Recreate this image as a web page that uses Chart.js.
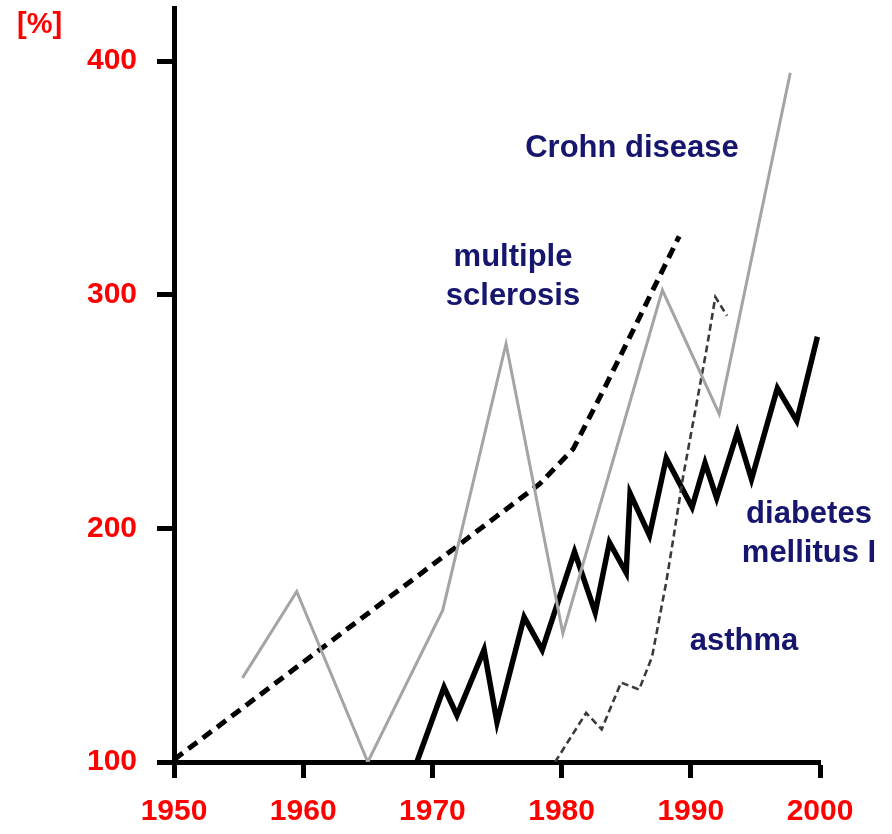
<!DOCTYPE html>
<html>
<head>
<meta charset="utf-8">
<script src="https://cdn.jsdelivr.net/npm/chart.js@4"></script>
<style>
  html, body { margin: 0; padding: 0; background: #ffffff; }
  #wrap { position: relative; width: 892px; height: 834px; }
  canvas { display: block; }
</style>
</head>
<body>
<div id="wrap"><canvas id="c" width="892" height="834"></canvas></div>
<script>
// ---- data ----
const xTicks = [1950, 1960, 1970, 1980, 1990, 2000];
const yTicks = [100, 200, 300, 400];
const yUnit = '[%]';

// Crohn disease (thin grey solid)
const crohnYears  = [1955.3, 1959.5, 1965.0, 1970.8, 1975.7, 1980.1, 1987.8, 1992.2, 1997.7];
const crohnValues = [136, 173, 100, 165, 279, 155, 302, 249, 395];

// multiple sclerosis (thick black dashed)
const msYears  = [1950.0, 1978.3, 1980.9, 1983.5, 1986.0, 1989.1];
const msValues = [101, 219, 234, 262, 290, 325];

// diabetes mellitus I (thick black solid)
const diabYears  = [1968.8, 1970.9, 1971.9, 1974.0, 1975.0, 1977.1, 1978.5, 1981.0, 1982.6, 1983.7, 1985.0, 1985.3, 1986.8, 1988.1, 1990.1, 1991.1, 1992.0, 1993.6, 1994.7, 1996.7, 1998.2, 1999.8];
const diabValues = [100, 132, 120, 148, 117, 162, 148, 190, 164, 194, 181, 215, 197, 230, 209, 228, 213, 241, 221, 260, 246, 282];

// asthma (thin dark dashed)
const asthmaYears  = [1979.5, 1981.9, 1983.1, 1984.6, 1986.0, 1987.0, 1988.1, 1988.6, 1989.4, 1990.5, 1991.2, 1991.9, 1992.8];
const asthmaValues = [100, 121, 114, 134, 131, 145, 177, 194, 222, 255, 276, 299, 291];

const seriesNames = ['Crohn disease', 'multiple sclerosis', 'diabetes mellitus I', 'asthma'];

// ---- helpers ----
const pts = (xs, ys) => xs.map((x, i) => ({ x: x, y: ys[i] }));

const RED = '#ff0000';
const NAVY = '#16166e';
const FONT = "'Liberation Sans', Arial, Helvetica, sans-serif";

// annotation labels (text positions in canvas pixels)
const annotations = [
  { lines: ['Crohn disease'], x: 632, y: 157 },
  { lines: ['multiple', 'sclerosis'], x: 513, y: 266 },
  { lines: ['diabetes', 'mellitus I'], x: 809, y: 523 },
  { lines: ['asthma'], x: 744, y: 650 }
];

const labelPlugin = {
  id: 'labels',
  afterDraw(chart) {
    const ctx = chart.ctx;
    ctx.save();
    ctx.textAlign = 'center';
    ctx.textBaseline = 'alphabetic';
    ctx.fillStyle = NAVY;
    ctx.font = 'bold 31px ' + FONT;
    annotations.forEach(a => {
      a.lines.forEach((t, i) => ctx.fillText(t, a.x, a.y + i * 39));
    });
    ctx.fillStyle = RED;
    ctx.textAlign = 'left';
    ctx.font = 'bold 29px ' + FONT;
    ctx.fillText(yUnit, 17, 33);
    ctx.restore();
  }
};

const zeroPad = s => { s.paddingTop = 0; s.paddingBottom = 0; s.paddingLeft = 0; s.paddingRight = 0; };

new Chart(document.getElementById('c'), {
  type: 'line',
  data: {
    datasets: [
      {
        label: seriesNames[0],
        data: pts(crohnYears, crohnValues),
        borderColor: '#a4a4a4',
        borderWidth: 3,
        pointRadius: 0,
        tension: 0,
        fill: false
      },
      {
        label: seriesNames[1],
        data: pts(msYears, msValues),
        borderColor: '#000000',
        borderWidth: 5,
        borderDash: [11, 7],
        pointRadius: 0,
        tension: 0,
        fill: false
      },
      {
        label: seriesNames[3],
        data: pts(asthmaYears, asthmaValues),
        borderColor: '#3a3a3a',
        borderWidth: 2.6,
        borderDash: [7, 4],
        pointRadius: 0,
        tension: 0,
        fill: false
      },
      {
        label: seriesNames[2],
        data: pts(diabYears, diabValues),
        borderColor: '#000000',
        borderWidth: 5.5,
        borderJoinStyle: 'miter',
        pointRadius: 0,
        tension: 0,
        fill: false
      }
    ]
  },
  options: {
    responsive: false,
    animation: false,
    devicePixelRatio: 1,
    layout: { padding: { top: 8, right: 72, left: 0, bottom: 0 } },
    plugins: { legend: { display: false }, tooltip: { enabled: false } },
    scales: {
      x: {
        type: 'linear',
        min: 1950,
        max: 2000,
        afterFit: s => { s.height = 72; zeroPad(s); },
        afterBuildTicks: s => { s.ticks = xTicks.map(v => ({ value: v })); },
        border: { display: true, color: '#000', width: 5 },
        grid: { drawOnChartArea: false, drawTicks: true, tickLength: 16, tickWidth: 5, tickColor: '#000' },
        ticks: {
          color: RED,
          font: { family: FONT, size: 30, weight: 'bold', lineHeight: 1.2 },
          padding: 16,
          maxRotation: 0,
          autoSkip: false,
          callback: v => String(v)
        }
      },
      y: {
        type: 'linear',
        min: 100,
        max: 422.7,
        afterFit: s => { s.width = 174; zeroPad(s); },
        afterBuildTicks: s => { s.ticks = yTicks.map(v => ({ value: v })); },
        border: { display: true, color: '#000', width: 5 },
        grid: { drawOnChartArea: false, drawTicks: true, tickLength: 17, tickWidth: 5, tickColor: '#000' },
        ticks: {
          color: RED,
          font: { family: FONT, size: 30, weight: 'bold', lineHeight: 1.2 },
          padding: 20,
          autoSkip: false,
          callback: v => String(v)
        }
      }
    }
  },
  plugins: [labelPlugin]
});
</script>
</body>
</html>
